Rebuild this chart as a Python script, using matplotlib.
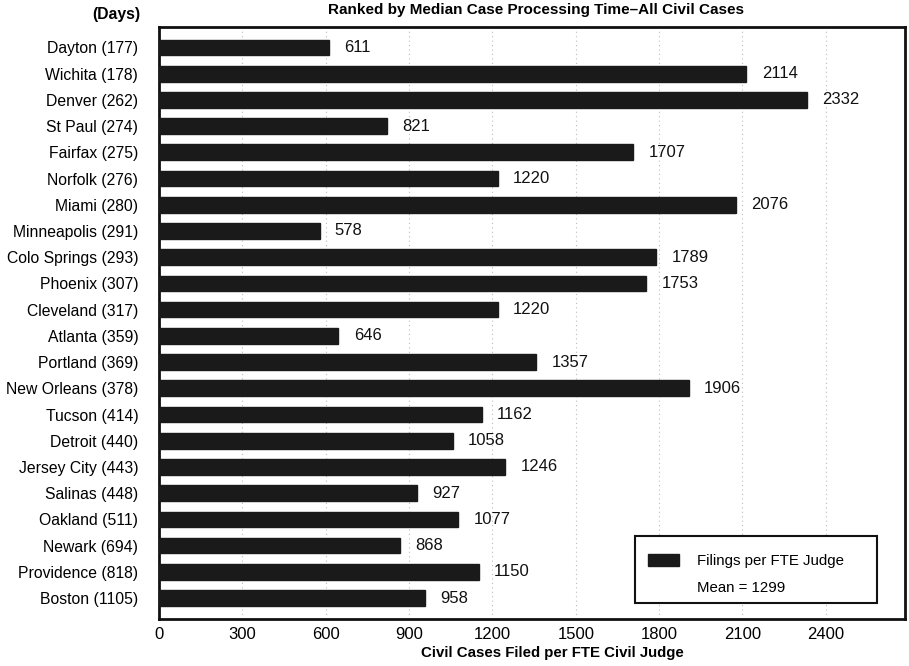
import matplotlib
matplotlib.use("Agg")
import matplotlib.pyplot as plt
from matplotlib.patches import Patch, Rectangle

cities = ["Dayton (177)", "Wichita (178)", "Denver (262)", "St Paul (274)",
          "Fairfax (275)", "Norfolk (276)", "Miami (280)", "Minneapolis (291)",
          "Colo Springs (293)", "Phoenix (307)", "Cleveland (317)", "Atlanta (359)",
          "Portland (369)", "New Orleans (378)", "Tucson (414)", "Detroit (440)",
          "Jersey City (443)", "Salinas (448)", "Oakland (511)", "Newark (694)",
          "Providence (818)", "Boston (1105)"]
filings = [611, 2114, 2332, 821, 1707, 1220, 2076, 578, 1789, 1753, 1220, 646,
           1357, 1906, 1162, 1058, 1246, 927, 1077, 868, 1150, 958]
xticks = [0, 300, 600, 900, 1200, 1500, 1800, 2100, 2400]
mean_filings = 1299

plt.rcParams['font.family'] = ['Liberation Sans Narrow', 'Liberation Sans', 'DejaVu Sans']
BAR = '#1a1a1a'
NUM_FONT = ['Liberation Sans', 'DejaVu Sans']

fig = plt.figure(figsize=(9.09, 6.66), dpi=100)
ax = fig.add_axes([159/909, 1 - 619/666, (905-159)/909, (619-27)/666])

y = list(range(len(cities)))
ax.barh(y, filings, height=0.6, color=BAR, edgecolor=BAR, zorder=3)
for yi, v in zip(y, filings):
    ax.text(v + 55, yi, f"{v}", va='center', ha='left', fontsize=12,
            family=NUM_FONT, color='#111')

ax.set_ylim(len(cities) - 1 + 0.8, -0.78)
ax.set_xlim(0, 2685)
ax.set_yticks(y)
ax.set_yticklabels(cities, fontsize=11.3)
ax.set_xticks(xticks)
ax.set_xticklabels([str(t) for t in xticks], fontsize=12, family=NUM_FONT)
ax.tick_params(length=0)
ax.tick_params(axis='x', pad=6)
ax.tick_params(axis='y', pad=15)
ax.grid(axis='x', color='#bbbbbb', linestyle=(0, (1, 3)), linewidth=0.8, zorder=0)
for s in ax.spines.values():
    s.set_linewidth(2)
    s.set_color('#111')

ax.set_xlabel("Civil Cases Filed per FTE Civil Judge", fontsize=10.8,
              fontweight='bold', labelpad=5)
ax.xaxis.set_label_coords((552 - 159) / 746, -0.045)
fig.text(536/909, 1 - 10/666, "Ranked by Median Case Processing Time\u2013All Civil Cases",
         ha='center', va='center', fontsize=11, fontweight='bold')
fig.text(140/909, 1 - 15/666, "(Days)", ha='right', va='center',
         fontsize=11.3, fontweight='bold')

# legend: framed box with the bar swatch and the mean below it
ax.add_patch(Rectangle((0.638, 0.027), 0.3245, 0.113, transform=ax.transAxes,
                       facecolor='white', edgecolor='#111', linewidth=1.5, zorder=5))
handles = [Patch(facecolor=BAR, edgecolor=BAR),
           Patch(facecolor='none', edgecolor='none')]
labels = ["Filings per FTE Judge", "Mean = " + str(mean_filings)]
leg = ax.legend(handles=handles, labels=labels,
                loc='upper left', bbox_to_anchor=(0.6555, 0.110), fontsize=10.8,
                frameon=False, handlelength=2.07, handleheight=0.87,
                borderpad=0, handletextpad=1.2, labelspacing=0.85,
                borderaxespad=0)
leg.set_zorder(6)

fig.savefig("out.png", dpi=100)
